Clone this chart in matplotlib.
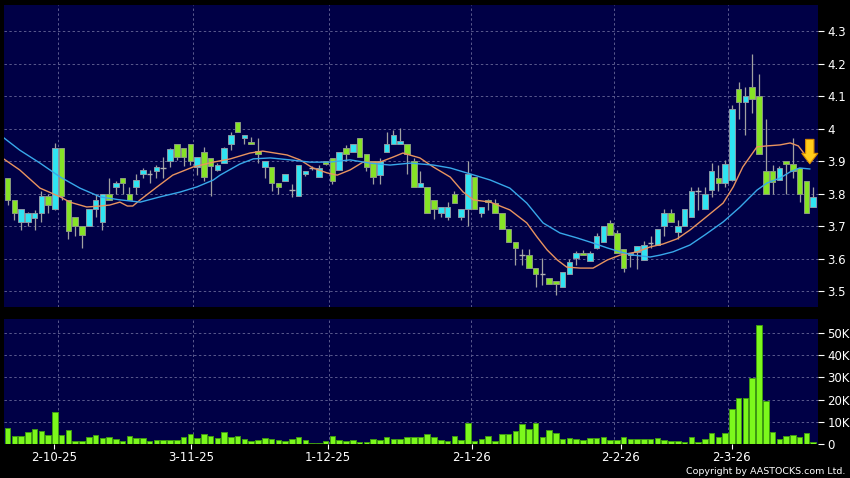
import numpy as np
import matplotlib.pyplot as plt
from matplotlib.ticker import FuncFormatter

# daily candles (index 0 = first visible session)
opens = [3.850, 3.780, 3.715, 3.715, 3.725, 3.740, 3.795, 3.755, 3.940, 3.780,
         3.730, 3.700, 3.700, 3.755, 3.715, 3.800, 3.820, 3.850, 3.800, 3.820,
         3.862, 3.862, 3.871, 3.880, 3.900, 3.954, 3.940, 3.954, 3.883, 3.930,
         3.910, 3.874, 3.895, 3.954, 4.020, 3.972, 3.960, 3.932, 3.883, 3.883,
         3.834, 3.840, 3.812, 3.794, 3.862, 3.880, 3.852, 3.900, 3.912, 3.874,
         3.940, 3.930, 3.972, 3.923, 3.900, 3.858, 3.930, 3.954, 3.954, 3.954,
         3.900, 3.820, 3.820, 3.780, 3.740, 3.730, 3.800, 3.730, 3.754, 3.852,
         3.740, 3.780, 3.772, 3.740, 3.692, 3.652, 3.612, 3.612, 3.572, 3.554,
         3.540, 3.532, 3.514, 3.554, 3.603, 3.618, 3.594, 3.634, 3.652, 3.711,
         3.680, 3.631, 3.612, 3.620, 3.597, 3.650, 3.643, 3.700, 3.741, 3.683,
         3.700, 3.730, 3.810, 3.754, 3.812, 3.850, 3.835, 3.843, 4.123, 4.082,
         4.130, 4.100, 3.872, 3.872, 3.843, 3.900, 3.892, 3.880, 3.840, 3.761]
highs = [3.850, 3.780, 3.755, 3.745, 3.750, 3.810, 3.800, 3.957, 3.940, 3.780,
         3.730, 3.700, 3.755, 3.800, 3.800, 3.850, 3.840, 3.850, 3.820, 3.860,
         3.880, 3.874, 3.890, 3.914, 3.940, 3.954, 3.940, 3.954, 3.914, 3.945,
         3.910, 3.895, 3.945, 3.992, 4.020, 3.980, 3.975, 3.972, 3.900, 3.883,
         3.834, 3.862, 3.830, 3.890, 3.871, 3.885, 3.890, 3.900, 3.912, 3.930,
         3.950, 3.954, 3.972, 3.923, 3.900, 3.910, 3.990, 3.996, 4.003, 3.954,
         3.910, 3.870, 3.820, 3.780, 3.760, 3.775, 3.810, 3.754, 3.900, 3.852,
         3.760, 3.785, 3.785, 3.740, 3.692, 3.652, 3.630, 3.630, 3.572, 3.603,
         3.540, 3.532, 3.560, 3.600, 3.625, 3.628, 3.625, 3.680, 3.700, 3.720,
         3.690, 3.631, 3.618, 3.640, 3.655, 3.670, 3.692, 3.755, 3.755, 3.720,
         3.754, 3.820, 3.820, 3.820, 3.895, 3.890, 3.905, 4.075, 4.145, 4.130,
         4.230, 4.170, 4.030, 3.890, 3.885, 3.900, 3.972, 3.880, 3.840, 3.820]
lows = [3.765, 3.720, 3.690, 3.700, 3.690, 3.715, 3.740, 3.750, 3.780, 3.660,
        3.670, 3.635, 3.700, 3.730, 3.690, 3.780, 3.800, 3.800, 3.780, 3.800,
        3.850, 3.834, 3.850, 3.850, 3.883, 3.905, 3.885, 3.890, 3.858, 3.840,
        3.794, 3.870, 3.895, 3.935, 3.990, 3.955, 3.954, 3.895, 3.850, 3.810,
        3.800, 3.840, 3.790, 3.794, 3.855, 3.875, 3.852, 3.890, 3.830, 3.874,
        3.900, 3.930, 3.914, 3.870, 3.830, 3.830, 3.930, 3.954, 3.954, 3.860,
        3.820, 3.820, 3.740, 3.723, 3.730, 3.720, 3.772, 3.720, 3.700, 3.754,
        3.730, 3.750, 3.740, 3.692, 3.652, 3.580, 3.580, 3.572, 3.514, 3.520,
        3.523, 3.490, 3.514, 3.554, 3.580, 3.612, 3.594, 3.630, 3.652, 3.674,
        3.618, 3.560, 3.575, 3.570, 3.597, 3.635, 3.643, 3.670, 3.714, 3.660,
        3.700, 3.730, 3.750, 3.754, 3.790, 3.810, 3.820, 3.840, 4.030, 3.980,
        4.050, 3.923, 3.800, 3.800, 3.843, 3.800, 3.850, 3.775, 3.740, 3.761]
closes = [3.780, 3.740, 3.755, 3.740, 3.740, 3.795, 3.765, 3.940, 3.795, 3.685,
          3.700, 3.675, 3.755, 3.780, 3.800, 3.780, 3.835, 3.835, 3.780, 3.843,
          3.874, 3.862, 3.883, 3.880, 3.938, 3.914, 3.914, 3.900, 3.914, 3.852,
          3.886, 3.890, 3.940, 3.980, 3.990, 3.980, 3.954, 3.923, 3.900, 3.834,
          3.820, 3.862, 3.812, 3.890, 3.871, 3.880, 3.880, 3.892, 3.840, 3.930,
          3.923, 3.954, 3.914, 3.883, 3.852, 3.900, 3.954, 3.980, 3.963, 3.923,
          3.820, 3.834, 3.740, 3.754, 3.760, 3.760, 3.772, 3.754, 3.862, 3.754,
          3.760, 3.774, 3.740, 3.692, 3.652, 3.634, 3.612, 3.572, 3.554, 3.554,
          3.523, 3.523, 3.560, 3.590, 3.618, 3.612, 3.618, 3.670, 3.700, 3.674,
          3.618, 3.572, 3.618, 3.640, 3.643, 3.650, 3.692, 3.741, 3.714, 3.700,
          3.754, 3.810, 3.810, 3.800, 3.872, 3.835, 3.892, 4.060, 4.083, 4.100,
          4.092, 3.923, 3.800, 3.836, 3.880, 3.892, 3.872, 3.800, 3.740, 3.792]
volumes_k = [7.4, 3.6, 3.6, 5.6, 6.8, 5.7, 4.1, 14.3, 4.1, 6.3,
             1.2, 1.2, 3.2, 4.1, 2.6, 3.0, 2.4, 1.5, 3.6, 2.6,
             2.6, 1.2, 2.0, 2.0, 2.0, 2.0, 3.0, 4.5, 2.9, 4.4,
             3.8, 2.6, 5.4, 3.0, 3.6, 2.1, 1.4, 1.7, 2.6, 2.3,
             1.7, 1.5, 2.1, 3.3, 2.0, 0.5, 0.5, 1.4, 3.8, 2.0,
             1.4, 1.8, 0.8, 0.8, 2.1, 2.0, 3.3, 2.1, 2.4, 3.0,
             3.3, 3.2, 4.4, 3.3, 2.0, 1.2, 3.6, 1.8, 9.3, 1.5,
             2.1, 3.6, 1.2, 4.4, 4.7, 5.9, 8.9, 6.8, 9.3, 3.3,
             6.3, 4.8, 2.3, 2.6, 2.3, 1.7, 2.6, 2.6, 3.2, 1.8,
             1.8, 3.3, 2.1, 2.4, 2.4, 2.3, 2.7, 1.8, 1.5, 1.5,
             0.8, 3.0, 1.1, 2.1, 5.0, 3.3, 4.8, 15.8, 20.9, 20.9,
             29.9, 53.6, 19.4, 5.4, 2.1, 3.6, 3.9, 3.3, 5.0, 0.9]

# moving averages
ma10_pos = [-0.5, 1.8, 4.8, 7.8, 9.2, 11.7, 13.7, 15.1, 16.6, 17.7, 18.5, 19.6,
            22.1, 24.4, 27.4, 30.4, 32.9, 35.8, 37.7, 41.3, 43.2, 45.1, 47.2,
            48.7, 50.6, 52.5, 55.0, 57.0, 58.4, 60.9, 62.9, 65.4, 67.3, 68.8,
            71.3, 74.2, 76.7, 78.2, 79.7, 81.2, 82.6, 84.6, 86.5, 88.6, 90.5,
            93.0, 94.9, 96.8, 98.9, 100.8, 103.0, 105.7, 107.2, 108.6, 110.7,
            112.2, 114.1, 115.6, 116.8, 117.5, 118.5]
ma10 = [3.907, 3.874, 3.818, 3.791, 3.775, 3.760, 3.763, 3.766, 3.775, 3.763,
        3.763, 3.782, 3.822, 3.858, 3.883, 3.898, 3.908, 3.926, 3.932, 3.920,
        3.905, 3.880, 3.865, 3.858, 3.874, 3.898, 3.898, 3.914, 3.926, 3.911,
        3.883, 3.852, 3.806, 3.782, 3.775, 3.751, 3.711, 3.668, 3.628, 3.597,
        3.575, 3.572, 3.572, 3.597, 3.612, 3.622, 3.637, 3.646, 3.662, 3.689,
        3.726, 3.772, 3.822, 3.883, 3.945, 3.948, 3.951, 3.957, 3.948, 3.929,
        3.898]
ma20_pos = [-0.5, 1.8, 4.8, 7.8, 10.7, 13.7, 16.6, 19.6, 22.5, 25.5, 28.0,
            30.4, 31.4, 34.3, 36.3, 38.8, 41.7, 44.7, 47.6, 50.6, 53.5, 56.5,
            59.5, 62.9, 65.4, 68.3, 71.3, 74.2, 76.7, 79.1, 81.6, 84.1, 86.5,
            88.6, 90.5, 92.4, 94.9, 96.4, 98.3, 100.8, 103.0, 105.7, 108.2,
            110.7, 112.2, 114.1, 115.6, 117.0, 118.5]
ma20 = [3.972, 3.935, 3.895, 3.852, 3.818, 3.791, 3.782, 3.775, 3.791, 3.806,
        3.822, 3.843, 3.858, 3.892, 3.908, 3.911, 3.905, 3.898, 3.898, 3.905,
        3.895, 3.889, 3.895, 3.889, 3.880, 3.862, 3.843, 3.818, 3.772, 3.711,
        3.680, 3.665, 3.649, 3.634, 3.622, 3.612, 3.606, 3.612, 3.622, 3.643,
        3.674, 3.714, 3.760, 3.812, 3.834, 3.849, 3.868, 3.880, 3.877]

tick_pos = [6.9, 27.1, 47.3, 68.6, 90.6, 107.0]
tick_labels = ["2-10-25", "3-11-25", "1-12-25", "2-1-26", "2-2-26", "2-3-26"]
grid_pos = [7.5, 27.4, 47.5, 68.5, 89.6, 106.4]

bg = "#000046"
grid_kw = dict(color="#5a5a8e", lw=0.7, ls=(0, (2.5, 2.5)))
cyan = "#2fe4f2"
green = "#86e326"

fig = plt.figure(figsize=(8.5, 4.78), dpi=100, facecolor="black")
ax = fig.add_axes([4 / 850, 1 - 306.7 / 478, 813.7 / 850, 301.7 / 478], facecolor=bg)
axv = fig.add_axes([4 / 850, 1 - 444 / 478, 813.7 / 850, 125 / 478], facecolor=bg)

x = np.arange(len(closes))
o = np.array(opens)
h = np.array(highs)
l = np.array(lows)
c = np.array(closes)
up = c > o
dn = c < o
flat = c == o
w = 0.82

ax.vlines(x, l, h, color="#a0a0a0", lw=0.9, zorder=2)
ax.bar(x[up], (c - o)[up], bottom=o[up], width=w, color=cyan,
       edgecolor="#8a9aa6", lw=0.7, zorder=3)
ax.bar(x[dn], (o - c)[dn], bottom=c[dn], width=w, color=green,
       edgecolor="#8a9a80", lw=0.7, zorder=3)
ax.hlines(o[flat], x[flat] - w / 2, x[flat] + w / 2, color="#b0b0b0", lw=1, zorder=3)

ax.plot(ma10_pos, ma10, color="#e8935f", lw=1, zorder=4)
ax.plot(ma20_pos, ma20, color="#38a8ea", lw=1, zorder=4)

ax.annotate("", xy=(118.5, 3.893), xytext=(118.5, 3.968),
            arrowprops=dict(width=6, headwidth=11.5, headlength=7.5,
                            facecolor="#ffcc1a", edgecolor="#d88a00", lw=0.8),
            zorder=6)

vol = np.array(volumes_k) * 1000
axv.bar(x, vol, width=w, color="#7cf81c", edgecolor="#3f9a12", lw=0.7, zorder=3)

xlim = (-0.52, 119.67)
for a in (ax, axv):
    a.set_xlim(*xlim)
    for s in a.spines.values():
        s.set_visible(False)
    a.yaxis.tick_right()
    a.set_xticks(grid_pos, minor=True)
    a.grid(which="minor", axis="x", **grid_kw)
    a.grid(which="major", axis="y", **grid_kw)
    a.set_axisbelow(True)
    a.tick_params(axis="y", colors="white", labelsize=8.5, length=4, pad=3)
    a.tick_params(axis="x", which="minor", length=0)

ax.set_ylim(3.4532, 4.3815)
ax.set_yticks(np.round(np.arange(3.5, 4.31, 0.1), 1))
ax.yaxis.set_major_formatter(FuncFormatter(lambda v, p: f"{round(v, 1):g}"))
ax.set_xticks([])

axv.set_ylim(0, 56300)
axv.set_yticks(np.arange(0, 50001, 10000))
axv.yaxis.set_major_formatter(FuncFormatter(lambda v, p: "0" if v == 0 else f"{int(v / 1000)}K"))
axv.set_xticks(tick_pos)
axv.set_xticklabels(tick_labels)
axv.tick_params(axis="x", which="major", colors="white", labelsize=8.5, length=3.5, pad=1.5)

fig.text(0.995, 1 - 472 / 478, "Copyright by AASTOCKS.com Ltd.", color="white",
         fontsize=6.8, ha="right", va="center")

fig.savefig("out.png", dpi=100, facecolor="black")
